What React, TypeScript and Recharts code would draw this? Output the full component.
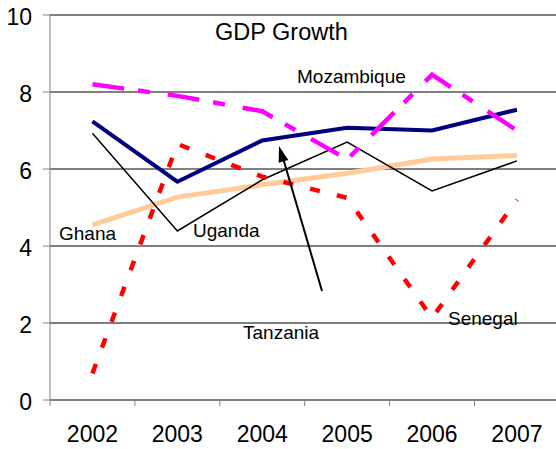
import { LineChart, Line, XAxis, YAxis, CartesianGrid, ReferenceLine } from 'recharts';

const years = [2002, 2003, 2004, 2005, 2006, 2007];
const mozambique = [8.2, 7.9, 7.5, 6.25, 8.45, 7.0];
const tanzania = [7.24, 5.67, 6.74, 7.07, 7.0, 7.54];
const uganda = [6.93, 4.39, 5.72, 6.7, 5.43, 6.21];
const ghana = [4.55, 5.27, 5.59, 5.89, 6.26, 6.35];
const senegal = [0.69, 6.65, 5.8, 5.25, 2.13, 5.2];

const yTicks = [0, 2, 4, 6, 8, 10];
// ticks at band edges get a tick mark, ticks at the years get a label
const xTicks = [2001.5, 2002, 2002.5, 2003, 2003.5, 2004, 2004.5, 2005, 2005.5, 2006, 2006.5, 2007, 2007.5];

const data = years.map((year, i) => ({
  year,
  mozambique: mozambique[i],
  tanzania: tanzania[i],
  uganda: uganda[i],
  ghana: ghana[i],
  senegal: senegal[i],
}));

const FONT = '"Liberation Sans", Arial, sans-serif';
const AXIS_GREY = '#808080';

function YearTick(props: any) {
  const { x, y, payload } = props;
  if (!Number.isInteger(payload.value)) {
    return <line x1={x} x2={x} y1={y} y2={y + 6} stroke={AXIS_GREY} />;
  }
  return (
    <text x={x} y={y + 42} textAnchor="middle" fontSize={23} fontFamily={FONT} fill="#000">
      {payload.value}
    </text>
  );
}

function ValueTick(props: any) {
  const { x, y, payload } = props;
  return (
    <text x={x} y={y + 10.4} textAnchor="end" fontSize={23} fontFamily={FONT} fill="#000">
      {payload.value}
    </text>
  );
}

export default function App() {
  return (
    <div style={{ position: 'absolute', left: 0, top: 0, width: 556, height: 449, overflow: 'hidden', background: '#fff' }}>
      <LineChart
        width={570}
        height={449}
        data={data}
        margin={{ top: 15, right: 10.6, bottom: 0, left: 0 }}
      >
        <CartesianGrid vertical={false} stroke="#000" />
        <ReferenceLine y={10} stroke={AXIS_GREY} />
        <XAxis
          dataKey="year"
          type="number"
          domain={[2001.5, 2007.5]}
          ticks={xTicks}
          interval={0}
          height={49}
          tickLine={false}
          tickSize={0}
          tickMargin={0}
          stroke={AXIS_GREY}
          tick={<YearTick />}
        />
        <YAxis
          domain={[0, 10]}
          ticks={yTicks}
          width={50}
          tickSize={7}
          tickMargin={11}
          stroke={AXIS_GREY}
          tick={<ValueTick />}
        />
        <Line dataKey="ghana" stroke="#FFCC99" strokeWidth={5} dot={false} isAnimationActive={false} />
        <Line dataKey="uganda" stroke="#000" strokeWidth={1.5} dot={false} isAnimationActive={false} />
        <Line dataKey="senegal" stroke="#FF0000" strokeWidth={4.5} strokeDasharray="10 17.5" dot={false} isAnimationActive={false} />
        <Line dataKey="tanzania" stroke="#000080" strokeWidth={4} dot={false} isAnimationActive={false} />
        <Line dataKey="mozambique" stroke="#FF00FF" strokeWidth={4.5} strokeDasharray="32 14 12 18" dot={false} isAnimationActive={false} />
      </LineChart>
      <svg
        width={556}
        height={449}
        style={{ position: 'absolute', left: 0, top: 0, pointerEvents: 'none' }}
        fontFamily={FONT}
      >
        <text x={215} y={40} fontSize={23.5} fill="#000">GDP Growth</text>
        <text x={297} y={83} fontSize={19} fill="#000">Mozambique</text>
        <text x={59} y={240} fontSize={19} fill="#000">Ghana</text>
        <text x={193} y={237} fontSize={19} fill="#000">Uganda</text>
        <text x={243} y={339} fontSize={19} fill="#000">Tanzania</text>
        <text x={448} y={325} fontSize={19} fill="#000">Senegal</text>
        <line x1={322} y1={291} x2={283} y2={158} stroke="#000" strokeWidth={2} />
        <polygon points="279,146 288.3,159.9 278.7,162.7" fill="#000" />
      </svg>
    </div>
  );
}
